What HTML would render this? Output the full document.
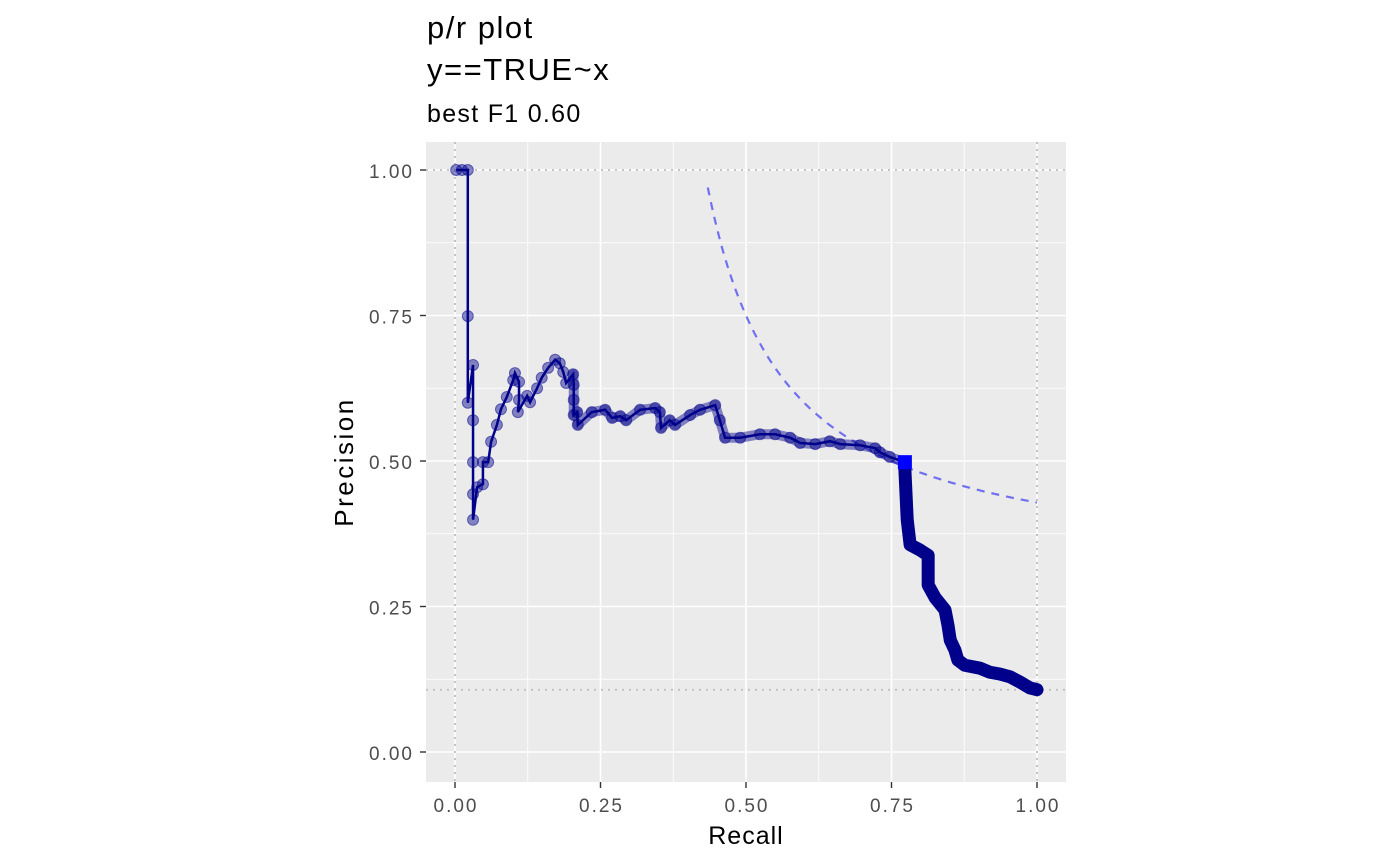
<!DOCTYPE html>
<html><head><meta charset="utf-8"><style>
html,body{margin:0;padding:0;background:#fff;}
svg{display:block;font-family:"Liberation Sans",Arial,sans-serif;}
</style></head><body>
<svg id="chart" width="1400" height="866" viewBox="0 0 1400 866">
<text x="427" y="38" font-size="31" letter-spacing="1.5" fill="#000">p/r plot</text>
<text x="427" y="80" font-size="31" letter-spacing="1.5" fill="#000">y==TRUE~x</text>
<text x="427" y="122" font-size="25" letter-spacing="1.3" fill="#000">best F1 0.60</text>
<rect x="426" y="142" width="640" height="640" fill="#ebebeb"/>
<g id="grid"></g>
<g id="refs"></g>
<g id="marks"></g>
<g id="axes"></g>
<text x="746" y="844" font-size="25" letter-spacing="1" text-anchor="middle" fill="#000">Recall</text>
<text transform="translate(353,462) rotate(-90)" font-size="26" letter-spacing="2.5" text-anchor="middle" fill="#000">Precision</text>
</svg>
<script>
const recall=[0.002,0.012,0.022,0.022,0.022,0.031,0.031,0.031,0.031,0.031,0.038,0.048,0.048,0.057,0.062,0.072,0.079,0.089,0.100,0.103,0.110,0.110,0.108,0.124,0.129,0.141,0.149,0.160,0.172,0.180,0.186,0.191,0.203,0.204,0.204,0.204,0.210,0.211,0.235,0.258,0.270,0.284,0.294,0.318,0.344,0.352,0.354,0.369,0.378,0.404,0.421,0.447,0.455,0.464,0.490,0.524,0.550,0.576,0.593,0.619,0.644,0.662,0.696,0.722,0.730,0.747,0.773,0.773,0.777,0.782,0.799,0.813,0.813,0.825,0.842,0.847,0.851,0.859,0.864,0.876,0.902,0.919,0.936,0.954,0.971,0.988,1.0];
const precision=[1.0,1.0,1.0,0.749,0.600,0.665,0.570,0.498,0.443,0.399,0.455,0.460,0.498,0.498,0.533,0.562,0.589,0.610,0.639,0.651,0.636,0.605,0.584,0.612,0.601,0.625,0.643,0.660,0.674,0.668,0.653,0.634,0.649,0.631,0.605,0.579,0.584,0.562,0.584,0.588,0.574,0.577,0.570,0.588,0.591,0.584,0.557,0.570,0.562,0.579,0.588,0.596,0.570,0.540,0.540,0.546,0.546,0.540,0.531,0.529,0.534,0.529,0.527,0.522,0.515,0.507,0.498,0.485,0.399,0.356,0.347,0.338,0.287,0.265,0.244,0.218,0.192,0.175,0.158,0.149,0.144,0.137,0.134,0.129,0.120,0.110,0.107];
const bestF1=0.60;
const bestRecall=0.773, bestPrecision=0.498;
const baseline=0.107;
const tickValues=[0,0.25,0.5,0.75,1];
const tickLabels=["0.00","0.25","0.50","0.75","1.00"];

const NS="http://www.w3.org/2000/svg";
const X=v=>455+v*582, Y=v=>752-v*582;
function mk(tag,attrs,parent){const e=document.createElementNS(NS,tag);for(const k in attrs)e.setAttribute(k,attrs[k]);parent.appendChild(e);return e;}
const grid=document.getElementById('grid'),refs=document.getElementById('refs'),marks=document.getElementById('marks'),axes=document.getElementById('axes');
for(let i=0;i<4;i++){const m=(tickValues[i]+tickValues[i+1])/2;
 let a=mk('line',{x1:X(m),x2:X(m),y1:142,y2:782,stroke:'#fff','stroke-width':0.8},grid);
 let b=mk('line',{x1:426,x2:1066,y1:Y(m),y2:Y(m),stroke:'#fff','stroke-width':0.8},grid);}
tickValues.forEach((v,i)=>{
 let a=mk('line',{x1:X(v),x2:X(v),y1:142,y2:782,stroke:'#fff','stroke-width':1.6},grid);
 let b=mk('line',{x1:426,x2:1066,y1:Y(v),y2:Y(v),stroke:'#fff','stroke-width':1.6},grid);
 let t1=mk('line',{x1:X(v),x2:X(v),y1:782,y2:788,stroke:'#333','stroke-width':1.4},axes);
 let l1=mk('text',{x:X(v)+1,y:812,'font-size':19,'letter-spacing':2,'text-anchor':'middle',fill:'#4d4d4d'},axes);l1.textContent=tickLabels[i];
 let t2=mk('line',{x1:420,x2:426,y1:Y(v),y2:Y(v),stroke:'#333','stroke-width':1.4},axes);
 let l2=mk('text',{x:414,y:Y(v)+8,'font-size':19,'letter-spacing':2,'text-anchor':'end',fill:'#4d4d4d'},axes);l2.textContent=tickLabels[i];
});
const dot={stroke:'#bdbdbd','stroke-width':1.8,'stroke-dasharray':'2 5'};
let r1=mk('line',Object.assign({x1:X(0),x2:X(0),y1:142,y2:782},dot),refs);
let r2=mk('line',Object.assign({x1:X(1),x2:X(1),y1:142,y2:782},dot),refs);
let r3=mk('line',Object.assign({x1:426,x2:1066,y1:Y(1),y2:Y(1)},dot),refs);
let r4=mk('line',Object.assign({x1:426,x2:1066,y1:Y(baseline),y2:Y(baseline)},dot),refs);
let rs=bestF1*0.97/(2*0.97-bestF1),pts=[];
for(let k=0;k<=100;k++){const r=rs+(1-rs)*k/100;const p=bestF1*r/(2*r-bestF1);pts.push(X(r).toFixed(1)+','+Y(p).toFixed(1));}
let f1=mk('polyline',{points:pts.join(' '),fill:'none',stroke:'#7070f0','stroke-width':2.2,'stroke-dasharray':'8 7'},refs);
const bandIdx=recall.map((r,i)=>i).filter(i=>recall[i]>=0.2);
let band=mk('polyline',{points:bandIdx.map(i=>X(recall[i])+','+Y(precision[i])).join(' '),fill:'none',stroke:'rgba(0,0,139,0.45)','stroke-width':10,'stroke-linejoin':'round','stroke-linecap':'round'},marks);
const tailIdx=recall.map((r,i)=>i).filter(i=>recall[i]>=bestRecall);
let tail=mk('polyline',{points:tailIdx.map(i=>X(recall[i])+','+Y(precision[i])).join(' '),fill:'none',stroke:'#00008b','stroke-width':13,'stroke-linejoin':'round','stroke-linecap':'round'},marks);
let line=mk('polyline',{points:recall.map((r,i)=>X(r)+','+Y(precision[i])).join(' '),fill:'none',stroke:'#00008b','stroke-width':2.5},marks);
recall.forEach((r,i)=>{let c=mk('circle',{cx:X(r),cy:Y(precision[i]),r:5.5,fill:'rgba(0,0,139,0.45)',stroke:'rgba(0,0,139,0.5)','stroke-width':1},marks);});
let best=mk('rect',{x:X(bestRecall)-7,y:Y(bestPrecision)-7,width:14,height:14,fill:'#0000ff'},marks);
</script>
</body></html>
